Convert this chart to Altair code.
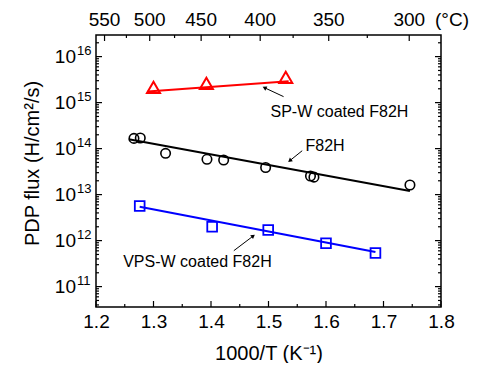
import math
import altair as alt
import pandas as pd

# ---------------- data ----------------
sp_x = [1.300, 1.392, 1.530]
sp_y = [2.15e15, 2.63e15, 3.55e15]

f82_x = [1.266, 1.277, 1.321, 1.393, 1.422, 1.495, 1.573, 1.579, 1.746]
f82_y = [1.67e14, 1.70e14, 7.9e13, 5.86e13, 5.66e13, 3.89e13, 2.54e13, 2.40e13, 1.62e13]

vps_x = [1.276, 1.402, 1.4995, 1.600, 1.686]
vps_y = [5.65e12, 2.0e12, 1.70e12, 8.75e11, 5.4e11]

# fitted lines (end points)
sp_fit_x = [1.290, 1.535]
sp_fit_y = [1.75e15, 2.92e15]
f82_fit_x = [1.257, 1.746]
f82_fit_y = [1.60e14, 1.20e13]
vps_fit_x = [1.276, 1.686]
vps_fit_y = [5.46e12, 5.66e11]

# annotations
ann_text = ["SP-W coated F82H", "F82H", "VPS-W coated F82H"]
ann_x = [1.5035, 1.5643, 1.2473]
ann_y = [6.35e14, 1.14e14, 3.48e11]
arrow_tail_x = [1.5262, 1.5586, 1.4397]
arrow_tail_y = [1.35e15, 9.0e13, 6.04e11]
arrow_head_x = [1.4930, 1.5370, 1.4734]
arrow_head_y = [2.11e15, 5.46e13, 1.26e12]

# axes
x_ticks = [1.2, 1.3, 1.4, 1.5, 1.6, 1.7, 1.8]
x_minor = [1.25, 1.35, 1.45, 1.55, 1.65, 1.75]
y_exps = [11, 12, 13, 14, 15, 16]
temp_major = [550, 500, 450, 400, 350, 300]
temp_minor = [525, 475, 425, 375, 325]

# ---------------- layout ----------------
W, H = 345, 272
LOG_LO, LOG_HI = 10.557, 16.47
FONT = "Liberation Sans"

xs = alt.Scale(domain=[1.2, 1.8], nice=False, zero=False)
ys = alt.Scale(type="log", domain=[10 ** LOG_LO, 10 ** LOG_HI], nice=False)

x_axis = alt.Axis(
    values=x_ticks, format=".1f", labelFont=FONT, labelFontSize=19,
    labelColor="black", labelFlush=False, labelOverlap=False, ticks=False,
    tickSize=0, domain=False, grid=False, labelPadding=5,
    title="1000/T (K⁻¹)", titleFont=FONT, titleFontSize=20,
    titleFontWeight="normal", titleColor="black", titleX=W / 2, titleY=52,
    titleBaseline="alphabetic", titleAlign="center")
y_axis = alt.Axis(
    labels=False, ticks=False, tickSize=0, domain=False, grid=False,
    title="PDP flux (H/cm²/s)", titleFont=FONT, titleFontSize=20,
    titleFontWeight="normal", titleColor="black", titleAngle=270,
    titleX=-64, titleY=128, titleAlign="center", titleBaseline="middle")


def px(x):
    return (x - 1.2) / 0.6 * W


def py(y):
    return (LOG_HI - math.log10(y)) / (LOG_HI - LOG_LO) * H


pts_sp = pd.DataFrame({"x": sp_x, "y": sp_y})
pts_f82 = pd.DataFrame({"x": f82_x, "y": f82_y})
pts_vps = pd.DataFrame({"x": vps_x, "y": vps_y})
fit_sp = pd.DataFrame({"x": sp_fit_x, "y": sp_fit_y})
fit_f82 = pd.DataFrame({"x": f82_fit_x, "y": f82_fit_y})
fit_vps = pd.DataFrame({"x": vps_fit_x, "y": vps_fit_y})

angles = []
for tx, ty, hx, hy in zip(arrow_tail_x, arrow_tail_y, arrow_head_x, arrow_head_y):
    dx = px(hx) - px(tx)
    dy = py(hy) - py(ty)
    angles.append(math.degrees(math.atan2(dx, -dy)) % 360)

ann = pd.DataFrame({"t": ann_text, "x": ann_x, "y": ann_y})
arr = pd.DataFrame({"x": arrow_tail_x, "y": arrow_tail_y,
                    "x2": arrow_head_x, "y2": arrow_head_y, "ang": angles})


def X(f="x"):
    return alt.X(f"{f}:Q", scale=xs, axis=x_axis)


def Y(f="y"):
    return alt.Y(f"{f}:Q", scale=ys, axis=y_axis)


circ = alt.Chart(pts_f82).mark_point(
    shape="circle", size=90, filled=False, color="black", strokeWidth=1.6, opacity=1
).encode(x=X(), y=Y())

lines = []
for df, col in [(fit_sp, "#ff0000"), (fit_f82, "black"), (fit_vps, "#0000ff")]:
    lines.append(alt.Chart(df).mark_line(color=col, strokeWidth=2).encode(x=X(), y=Y()))

tri = alt.Chart(pts_sp).mark_point(
    shape="triangle-up", size=170, filled=False, color="#ff0000", strokeWidth=2, opacity=1
).encode(x=X(), y=Y())
sq = alt.Chart(pts_vps).mark_point(
    shape="square", size=95, filled=False, color="#0000ff", strokeWidth=1.8, opacity=1
).encode(x=X(), y=Y())

ann_txt = alt.Chart(ann).mark_text(
    font=FONT, fontSize=16, align="left", baseline="middle", color="black"
).encode(x=X(), y=Y(), text="t:N")
arr_line = alt.Chart(arr).mark_rule(color="black", strokeWidth=1).encode(
    x=X(), y=Y(), x2="x2:Q", y2="y2:Q")
arr_head = alt.Chart(arr).mark_point(
    shape="triangle-up", size=22, filled=True, color="black", opacity=1
).encode(x=X("x2"), y=Y("y2"), angle=alt.Angle("ang:Q", scale=None))

# manual inward ticks
xt = pd.DataFrame({"x": x_ticks})
xm = pd.DataFrame({"x": x_minor})
ticks = [
    alt.Chart(xt).mark_rule(color="black", strokeWidth=1.2).encode(
        x=X(), y=alt.value(H), y2=alt.value(H - 6)),
    alt.Chart(xm).mark_rule(color="black", strokeWidth=1.2).encode(
        x=X(), y=alt.value(H), y2=alt.value(H - 3)),
]
ymaj = pd.DataFrame({"y": [10.0 ** e for e in y_exps], "e": [str(e) for e in y_exps]})
ymin_vals = []
for d in range(10, 17):
    for m in range(2, 10):
        v = m * 10.0 ** d
        if LOG_LO <= math.log10(v) <= LOG_HI:
            ymin_vals.append(v)
ymin = pd.DataFrame({"y": ymin_vals})
for x0, x1, df in [(0, 6, ymaj), (0, 3, ymin), (W, W - 6, ymaj), (W, W - 3, ymin)]:
    ticks.append(alt.Chart(df).mark_rule(color="black", strokeWidth=1.2).encode(
        y=Y(), x=alt.value(x0), x2=alt.value(x1)))

# top temperature axis
tmaj = pd.DataFrame({"T": temp_major})
tmin = pd.DataFrame({"T": temp_minor})
calc = "1000 / (datum.T + 273.15)"
ticks.append(alt.Chart(tmaj).transform_calculate(x=calc).mark_rule(
    color="black", strokeWidth=1.2).encode(x=X(), y=alt.value(0), y2=alt.value(6)))
ticks.append(alt.Chart(tmin).transform_calculate(x=calc).mark_rule(
    color="black", strokeWidth=1.2).encode(x=X(), y=alt.value(0), y2=alt.value(3)))
top_lab = alt.Chart(tmaj).transform_calculate(x=calc).mark_text(
    font=FONT, fontSize=19, baseline="middle", align="center", color="black"
).encode(x=X(), y=alt.value(-15), text="T:Q")
unit_lab = alt.Chart(pd.DataFrame({"t": ["(°C)"]})).mark_text(
    font=FONT, fontSize=19, baseline="middle", align="center", color="black"
).encode(x=alt.value(W + 11), y=alt.value(-15), text="t:N")

# y tick labels 10^n
ylab10 = alt.Chart(ymaj).mark_text(
    font=FONT, fontSize=19, align="right", baseline="middle", color="black"
).encode(x=alt.value(-20), y=Y(), text=alt.value("10"))
ylabexp = alt.Chart(ymaj).mark_text(
    font=FONT, fontSize=13, align="left", baseline="middle", color="black", dy=-6
).encode(x=alt.value(-19), y=Y(), text="e:N")

chart = alt.layer(
    circ, *lines, tri, sq, ann_txt, arr_line, arr_head, *ticks,
    top_lab, unit_lab, ylab10, ylabexp
).properties(
    width=W, height=H,
    background="white",
    autosize=alt.AutoSizeParams(type="none"),
    padding={"left": 88, "top": 27, "right": 28, "bottom": 56},
).configure_view(
    stroke="black", strokeWidth=1.5
)

chart.save("out.html", embed_options={"renderer": "svg", "actions": False})
